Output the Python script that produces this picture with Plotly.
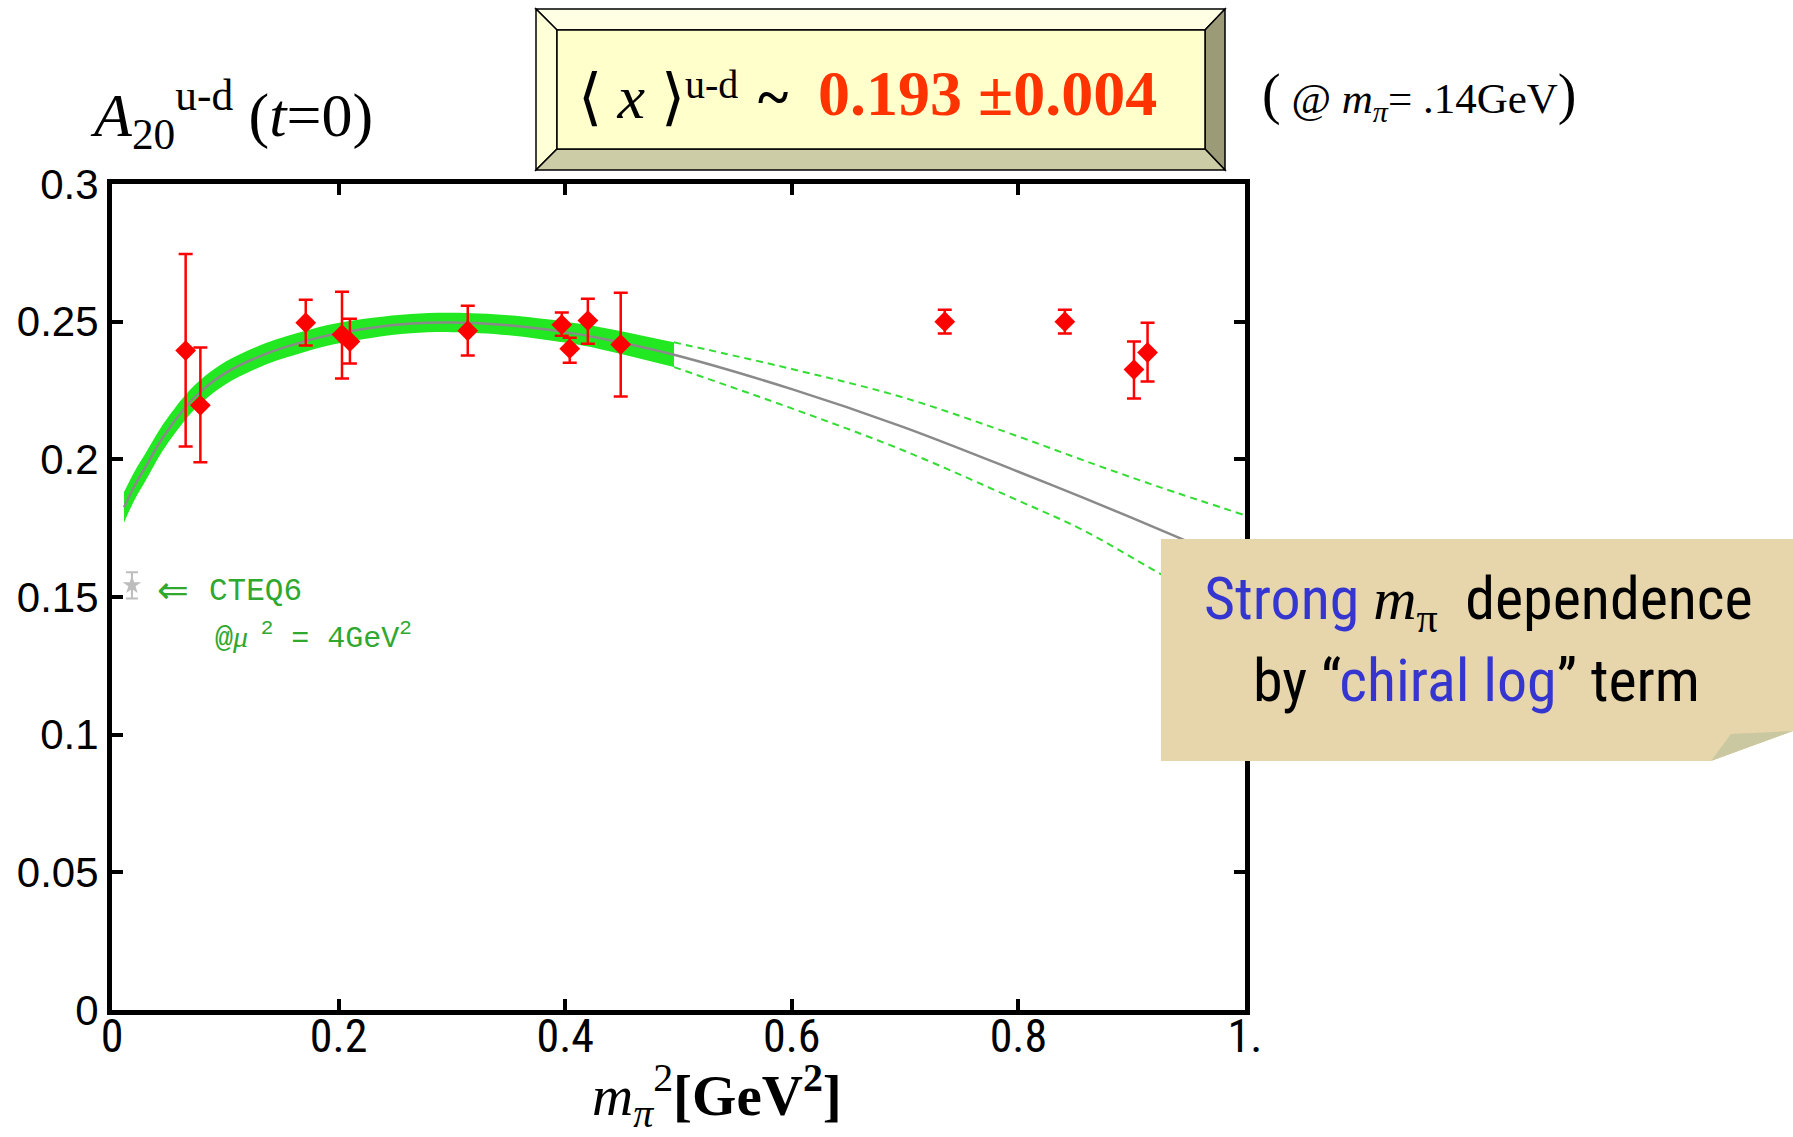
import plotly.graph_objects as go

# ---- lattice data: A20^{u-d}(t=0) vs m_pi^2 ----
m2 = [0.065, 0.078, 0.171, 0.203, 0.210, 0.314, 0.397, 0.404, 0.420, 0.449, 0.735, 0.841, 0.902, 0.914]
a20 = [0.2395, 0.2196, 0.2496, 0.2453, 0.2428, 0.2467, 0.2489, 0.2402, 0.2504, 0.2417, 0.2500, 0.2500, 0.2326, 0.2388]
a20_hi = [0.2746, 0.2406, 0.2580, 0.2609, 0.2511, 0.2558, 0.2533, 0.2442, 0.2583, 0.2605, 0.2543, 0.2543, 0.2428, 0.2496]
a20_lo = [0.2047, 0.1989, 0.2413, 0.2294, 0.2348, 0.2377, 0.2449, 0.2351, 0.2420, 0.2228, 0.2457, 0.2457, 0.2221, 0.2283]

# CTEQ6 reference value
cteq_x = [0.0176]
cteq_y = [0.1543]
cteq_hi = [0.1590]
cteq_lo = [0.1495]

# chiral fit: central curve
fit_x = [0.0106, 0.02, 0.03, 0.045, 0.065, 0.078, 0.1, 0.137, 0.17, 0.196, 0.23, 0.264, 0.3,
         0.35, 0.4, 0.431, 0.496, 0.6, 0.698, 0.8, 0.857, 0.943, 1.0]
fit_c = [0.1826, 0.1905, 0.1975, 0.2080, 0.2190, 0.2245, 0.2313, 0.2385, 0.2428, 0.2455, 0.2478, 0.2493, 0.2497,
         0.2487, 0.2462, 0.2440, 0.2380, 0.2255, 0.2118, 0.1955, 0.1861, 0.1713, 0.1610]

# error band inside the fit region
band_x = [0.0106, 0.02, 0.03, 0.045, 0.065, 0.078, 0.1, 0.137, 0.17, 0.196, 0.23, 0.264, 0.3, 0.35, 0.4, 0.431, 0.496]
band_hi = [0.1881, 0.1957, 0.2025, 0.2127, 0.2235, 0.2288, 0.2354, 0.2424, 0.2466, 0.2492, 0.2514, 0.2528, 0.2532,
           0.2523, 0.2500, 0.2480, 0.2425]
band_lo = [0.1771, 0.1853, 0.1925, 0.2033, 0.2145, 0.2202, 0.2272, 0.2346, 0.2390, 0.2418, 0.2442, 0.2458, 0.2462,
           0.2451, 0.2424, 0.2400, 0.2335]

# extrapolated band edges
ext_x = [0.496, 0.6, 0.698, 0.8, 0.857, 0.924, 1.0]
ext_hi = [0.2425, 0.2328, 0.2225, 0.2083, 0.1997, 0.1900, 0.1797]
ext_lo = [0.2335, 0.2185, 0.2033, 0.1850, 0.1743, 0.1587, 0.1410]

x_ticks = [0, 0.2, 0.4, 0.6, 0.8, 1.0]
x_tick_text = ["0", "0.2", "0.4", "0.6", "0.8", "1."]
y_ticks = [0, 0.05, 0.1, 0.15, 0.2, 0.25, 0.3]
y_tick_text = ["0", "0.05", "0.1", "0.15", "0.2", "0.25", "0.3"]

W, H = 1793, 1137
L, R, T, B = 112, 1245, 184, 1010


def px(x):
    return (x - L) / (R - L)


def py(y):
    return (B - y) / (B - T)


def poly(points):
    return "M " + " L ".join(f"{px(x):.5f},{py(y):.5f}" for x, y in points) + " Z"


def condensed(s):
    return f'<span style="font-stretch:condensed">{s}</span>'


SERIF = "Liberation Serif, Times New Roman, serif"
NARROW = "Roboto Condensed, Liberation Sans Narrow, DejaVu Sans Condensed, Liberation Sans, sans-serif"
SANS = "Liberation Sans, Arial, sans-serif"
MONO = "Liberation Mono, Courier New, monospace"
GREEN = "#22e822"
NOTE_GREEN = "#2fa82f"

fig = go.Figure()

fig.add_trace(go.Scatter(x=band_x, y=band_lo, mode="lines", line_shape="spline",
                         line=dict(width=0, color=GREEN), hoverinfo="skip"))
fig.add_trace(go.Scatter(x=band_x, y=band_hi, mode="lines", line_shape="spline",
                         line=dict(width=0, color=GREEN),
                         fill="tonexty", fillcolor=GREEN, hoverinfo="skip"))
for edge in (ext_hi, ext_lo):
    fig.add_trace(go.Scatter(x=ext_x, y=edge, mode="lines", line_shape="spline",
                             line=dict(color="#33dd33", width=2, dash="7px,5px")))
fig.add_trace(go.Scatter(x=fit_x, y=fit_c, mode="lines", line_shape="spline",
                         line=dict(color="#8a8a8a", width=2.5)))

fig.add_trace(go.Scatter(
    x=m2, y=a20, mode="markers",
    marker=dict(symbol="diamond", size=16, color="#ff0000"),
    error_y=dict(type="data", symmetric=False,
                 array=[h - v for h, v in zip(a20_hi, a20)],
                 arrayminus=[v - l for v, l in zip(a20, a20_lo)],
                 color="#ff0000", thickness=2.5, width=7),
))
fig.add_trace(go.Scatter(
    x=cteq_x, y=cteq_y, mode="markers",
    marker=dict(symbol="star", size=14, color="#bdbdbd"),
    error_y=dict(type="data", symmetric=False,
                 array=[h - v for h, v in zip(cteq_hi, cteq_y)],
                 arrayminus=[v - l for v, l in zip(cteq_y, cteq_lo)],
                 color="#bdbdbd", thickness=2, width=6),
))

shapes = []
# bevelled result box
ox0, oy0, ox1, oy1 = 536, 9, 1225, 170
ix0, iy0, ix1, iy1 = 557, 30, 1205, 149
bevel = [
    ([(ox0, oy0), (ox1, oy0), (ix1, iy0), (ix0, iy0)], "#ffffe4"),
    ([(ox0, oy0), (ix0, iy0), (ix0, iy1), (ox0, oy1)], "#ffffd8"),
    ([(ox1, oy0), (ox1, oy1), (ix1, iy1), (ix1, iy0)], "#9b9b78"),
    ([(ox0, oy1), (ix0, iy1), (ix1, iy1), (ox1, oy1)], "#cccca6"),
    ([(ix0, iy0), (ix1, iy0), (ix1, iy1), (ix0, iy1)], "#ffffcc"),
]
for pts, col in bevel:
    shapes.append(dict(type="path", xref="paper", yref="paper", path=poly(pts),
                       fillcolor=col, line=dict(color="black", width=1.5), layer="above"))

# parchment callout with folded corner
shapes.append(dict(type="path", xref="paper", yref="paper",
                   path=poly([(1161, 539), (1793, 539), (1793, 731), (1711, 761), (1161, 761)]),
                   fillcolor="#e7d5ab", line=dict(width=0), layer="above"))
shapes.append(dict(type="path", xref="paper", yref="paper",
                   path=poly([(1711, 761), (1793, 731), (1731, 734)]),
                   fillcolor="#c9c8a0", line=dict(width=0), layer="above"))

ann = []


def text(x, y, s, size, family=SERIF, color="black", xanchor="left", yanchor="middle"):
    ann.append(dict(x=px(x), y=py(y), xref="paper", yref="paper", text=s, showarrow=False,
                    xanchor=xanchor, yanchor=yanchor,
                    font=dict(size=size, family=family, color=color)))


# y-axis label
text(88, 114, "<i>A</i><sub>20</sub><sup>u-d</sup> (<i>t</i>=0)", 62)
# result box contents
text(576, 97, "⟨ <i>x</i> ⟩", 62)
text(683, 85, "u-d", 40)
text(773, 97, "<b>~</b>", 58, xanchor="center")
text(816, 94, "<b>0.193 ±0.004</b>", 64, color="#ff3300")
text(1260, 96, '<span style="font-size:56px">(</span> @ <i>m</i><sub><i>π</i></sub>= .14GeV'
               '<span style="font-size:56px">)</span>', 43)
# x-axis label
text(717, 1095, "<i>m</i><sub><i>π</i></sub><sup>2</sup><b>[GeV<sup>2</sup>]</b>", 57, xanchor="center")
# CTEQ6 note
text(155, 590, "⇐", 38, family="DejaVu Sans", color=NOTE_GREEN)
text(207, 591, "CTEQ6", 31, family=MONO, color=NOTE_GREEN)
text(213, 636, '@<span style="font-family:Liberation Serif"><i>μ</i></span><sup> 2</sup> = 4GeV<sup>2</sup>',
     30, family=MONO, color=NOTE_GREEN)
# callout
text(1478, 602, condensed('<span style="color:#3535d0">Strong</span> '
                          '<span style="font-family:Liberation Serif"><i>m</i><sub>π</sub></span>  dependence'),
     60, family=NARROW, xanchor="center")
text(1476, 680, condensed('by “<span style="color:#3535d0">chiral log</span>” term'), 60, family=NARROW,
     xanchor="center")

axis_common = dict(showgrid=False, zeroline=False, showline=True, linecolor="black", linewidth=5,
                   mirror="ticks", ticks="inside", ticklen=11, tickwidth=4, tickcolor="black")

fig.update_layout(
    width=W, height=H,
    margin=dict(l=L, r=W - R, t=T, b=H - B),
    plot_bgcolor="white", paper_bgcolor="white",
    showlegend=False,
    shapes=shapes, annotations=ann,
    xaxis=dict(range=[0, 1], tickvals=x_ticks, ticktext=[condensed(t) for t in x_tick_text],
               ticklabelstandoff=-18,
               tickfont=dict(size=46, family=NARROW, color="black"), **axis_common),
    yaxis=dict(range=[0, 0.3], tickvals=y_ticks, ticktext=y_tick_text,
               tickfont=dict(size=42, family=SANS, color="black"), **axis_common),
)

fig.write_html("out.html")
